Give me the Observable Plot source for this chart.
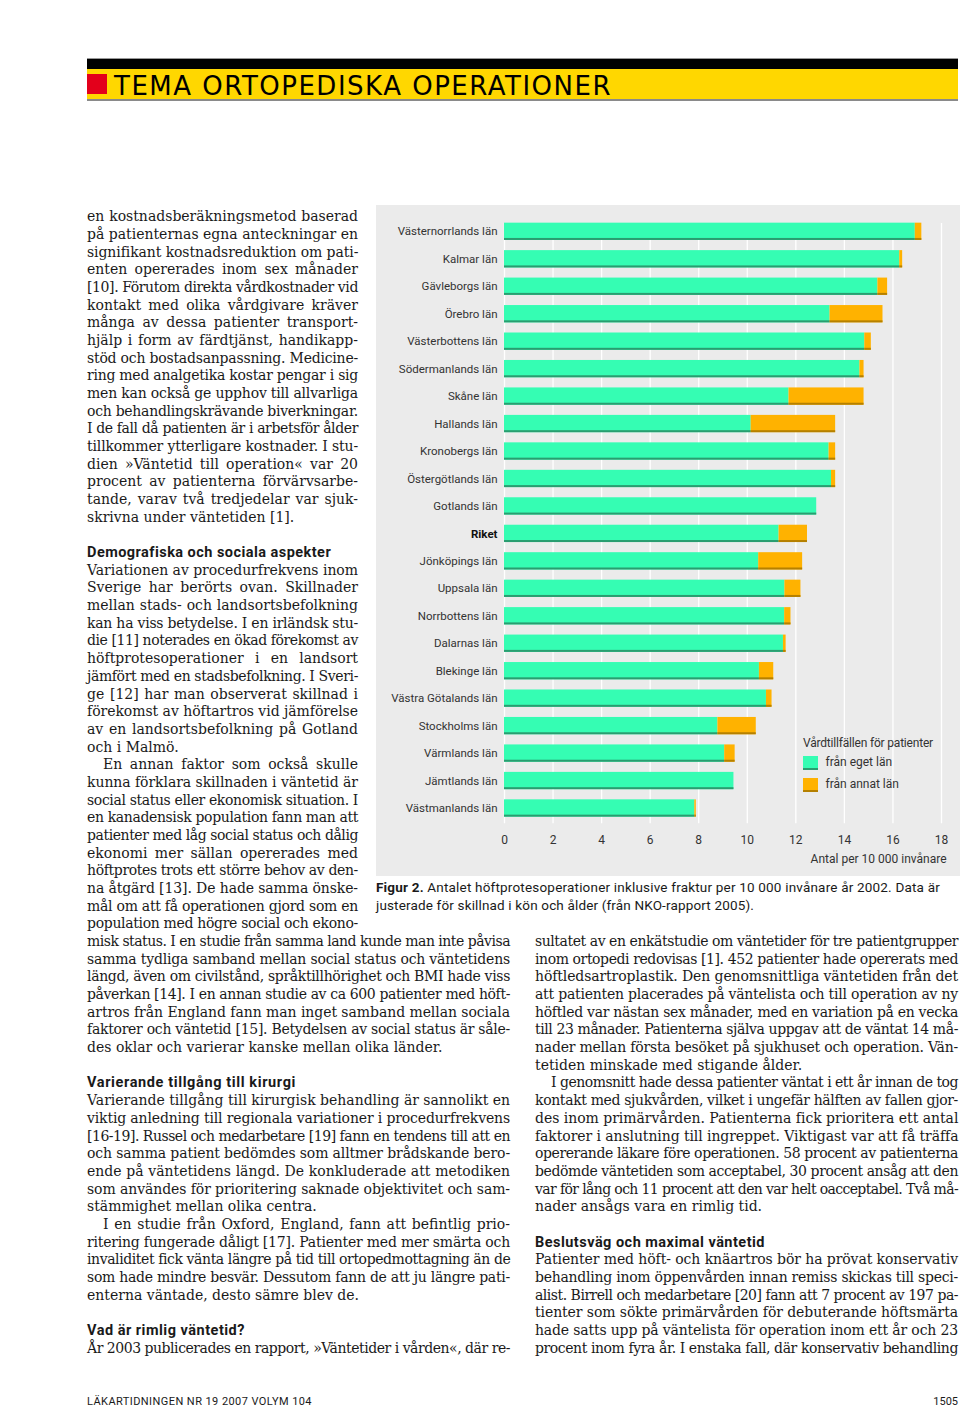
<!DOCTYPE html>
<html>
<head>
<meta charset="utf-8">
<script src="https://cdn.jsdelivr.net/npm/d3@7"></script>
<script src="https://cdn.jsdelivr.net/npm/@observablehq/plot@0.6"></script>
<style>
  html, body { margin: 0; padding: 0; background: #fff; }
  #page { position: relative; width: 960px; height: 1411px; overflow: hidden; background: #fff; color: #1a1a1a; }
  #page div.t { position: absolute; white-space: pre; width: max-content; }
</style>
</head>
<body>
<div id="page"></div>
<script>
// ---------- chart data ----------
const regions = ["Västernorrlands län", "Kalmar län", "Gävleborgs län", "Örebro län", "Västerbottens län", "Södermanlands län", "Skåne län", "Hallands län", "Kronobergs län", "Östergötlands län", "Gotlands län", "Riket", "Jönköpings län", "Uppsala län", "Norrbottens län", "Dalarnas län", "Blekinge län", "Västra Götalands län", "Stockholms län", "Värmlands län", "Jämtlands län", "Västmanlands län"];
const egetLan  = [16.92, 16.28, 15.38, 13.41, 14.84, 14.64, 11.72, 10.16, 13.37, 13.47, 12.86, 11.31, 10.47, 11.55, 11.54, 11.49, 10.50, 10.79, 8.79, 9.07, 9.45, 7.84];
const annatLan = [0.27, 0.12, 0.40, 2.18, 0.27, 0.17, 3.09, 3.48, 0.27, 0.17, 0.00, 1.17, 1.81, 0.66, 0.26, 0.11, 0.59, 0.23, 1.58, 0.43, 0.00, 0.06];
const seriesNames = ["från eget län", "från annat län"];
const xTicks = [0, 2, 4, 6, 8, 10, 12, 14, 16, 18];
const legendTitle = "Vårdtillfällen för patienter";
const xLabel = "Antal per 10 000 invånare";

const GREEN = "#35fdb3", GREEN_D = "#2a9d70", ORANGE = "#ffb200", ORANGE_D = "#b58000";

const page = document.getElementById("page");
const LH = 17.68;

function el(css, html) {
  const d = document.createElement("div");
  d.style.cssText = "position:absolute;" + css;
  if (html !== undefined) d.innerHTML = html;
  page.appendChild(d);
  return d;
}

function makeLine(text, x, yc, w, font, mode, isHTML) {
  const d = document.createElement("div");
  d.className = "t";
  d.style.left = x + "px";
  d.style.top = (yc - LH / 2) + "px";
  d.style.lineHeight = LH + "px";
  d.style.font = font;
  if (isHTML) d.innerHTML = text; else d.textContent = text;
  page.appendChild(d);
  if (mode === "none") return d;
  const plain = d.textContent;
  let nat = d.getBoundingClientRect().width;
  if (mode === "justify") {
    const n = (plain.match(/ /g) || []).length;
    if (nat > w) {
      d.style.letterSpacing = ((w - nat) / plain.length) + "px";
      nat = d.getBoundingClientRect().width;
    }
    if (n > 0 && nat < w) d.style.wordSpacing = ((w - nat) / n) + "px";
  } else if (mode === "fit") {
    d.style.letterSpacing = ((w - nat) / plain.length) + "px";
  } else if (mode === "right") {
    d.style.left = (x - nat) + "px";
  }
  return d;
}

const BODY = "14px 'DejaVu Serif', serif";
const HEAD = "bold 14.5px Roboto, sans-serif";
const headingW = {
  "Demografiska och sociala aspekter": 244,
  "Varierande tillgång till kirurgi": 209,
  "Vad är rimlig väntetid?": 158,
  "Beslutsväg och maximal väntetid": 230
};

function renderBlock(x, y0, w, lines) {
  lines.forEach((raw, i) => {
    if (!raw) return;
    const yc = y0 + i * LH;
    if (raw[0] === "#") {
      const t = raw.slice(1);
      makeLine(t, x, yc, headingW[t], HEAD, "fit");
      return;
    }
    let s = raw, indent = 0, mode = "justify";
    if (s[0] === ">") { indent = 16; s = s.slice(1); }
    if (s[0] === "~") { mode = "none"; s = s.slice(1); }
    makeLine(s, x + indent, yc, w - indent, BODY, mode);
  });
}

// ---------- header ----------
el("left:87px;top:58px;width:871px;height:1px;background:#999;");
el("left:87px;top:59px;width:871px;height:10px;background:#000;");
el("left:87px;top:69px;width:871px;height:30px;background:#ffd700;");
el("left:87px;top:99px;width:871px;height:1.5px;background:#8a8a8a;");
el("left:87px;top:74px;width:20px;height:20px;background:#e3001b;");
(function () {
  const d = document.createElement("div");
  d.className = "t";
  d.style.cssText += "left:114px;top:70.5px;line-height:30px;font:26px 'DejaVu Sans', sans-serif;color:#000;";
  d.textContent = "TEMA ORTOPEDISKA OPERATIONER";
  page.appendChild(d);
  const nat = d.getBoundingClientRect().width;
  d.style.letterSpacing = ((498 - nat) / 28) + "px";
})();

// ---------- body text ----------
const leftNarrow = [
  "en kostnadsberäkningsmetod baserad",
  "på patienternas egna anteckningar en",
  "signifikant kostnadsreduktion om pati-",
  "enten opererades inom sex månader",
  "[10]. Förutom direkta vårdkostnader vid",
  "kontakt med olika vårdgivare kräver",
  "många av dessa patienter transport-",
  "hjälp i form av färdtjänst, handikapp-",
  "stöd och bostadsanpassning. Medicine-",
  "ring med analgetika kostar pengar i sig",
  "men kan också ge upphov till allvarliga",
  "och behandlingskrävande biverkningar.",
  "I de fall då patienten är i arbetsför ålder",
  "tillkommer ytterligare kostnader. I stu-",
  "dien »Väntetid till operation« var 20",
  "procent av patienterna förvärvsarbe-",
  "tande, varav två tredjedelar var sjuk-",
  "~skrivna under väntetiden [1].",
  "",
  "#Demografiska och sociala aspekter",
  "Variationen av procedurfrekvens inom",
  "Sverige har berörts ovan. Skillnader",
  "mellan stads- och landsortsbefolkning",
  "kan ha viss betydelse. I en irländsk stu-",
  "die [11] noterades en ökad förekomst av",
  "höftprotesoperationer i en landsort",
  "jämfört med en stadsbefolkning. I Sveri-",
  "ge [12] har man observerat skillnad i",
  "förekomst av höftartros vid jämförelse",
  "av en landsortsbefolkning på Gotland",
  "~och i Malmö.",
  ">En annan faktor som också skulle",
  "kunna förklara skillnaden i väntetid är",
  "social status eller ekonomisk situation. I",
  "en kanadensisk population fann man att",
  "patienter med låg social status och dålig",
  "ekonomi mer sällan opererades med",
  "höftprotes trots ett större behov av den-",
  "na åtgärd [13]. De hade samma önske-",
  "mål om att få operationen gjord som en",
  "population med högre social och ekono-"
];
const leftWide = [
  "misk status. I en studie från samma land kunde man inte påvisa",
  "samma tydliga samband mellan social status och väntetidens",
  "längd, även om civilstånd, språktillhörighet och BMI hade viss",
  "påverkan [14]. I en annan studie av ca 600 patienter med höft-",
  "artros från England fann man inget samband mellan sociala",
  "faktorer och väntetid [15]. Betydelsen av social status är såle-",
  "~des oklar och varierar kanske mellan olika länder.",
  "",
  "#Varierande tillgång till kirurgi",
  "Varierande tillgång till kirurgisk behandling är sannolikt en",
  "viktig anledning till regionala variationer i procedurfrekvens",
  "[16-19]. Russel och medarbetare [19] fann en tendens till att en",
  "och samma patient bedömdes som alltmer brådskande bero-",
  "ende på väntetidens längd. De konkluderade att metodiken",
  "som användes för prioritering saknade objektivitet och sam-",
  "~stämmighet mellan olika centra.",
  ">I en studie från Oxford, England, fann att befintlig prio-",
  "ritering fungerade dåligt [17]. Patienter med mer smärta och",
  "invaliditet fick vänta längre på tid till ortopedmottagning än de",
  "som hade mindre besvär. Dessutom fann de att ju längre pati-",
  "~enterna väntade, desto sämre blev de.",
  "",
  "#Vad är rimlig väntetid?",
  "År 2003 publicerades en rapport, »Väntetider i vården«, där re-"
];
const rightCol = [
  "sultatet av en enkätstudie om väntetider för tre patientgrupper",
  "inom ortopedi redovisas [1]. 452 patienter hade opererats med",
  "höftledsartroplastik. Den genomsnittliga väntetiden från det",
  "att patienten placerades på väntelista och till operation av ny",
  "höftled var nästan sex månader, med en variation på en vecka",
  "till 23 månader. Patienterna själva uppgav att de väntat 14 må-",
  "nader mellan första besöket på sjukhuset och operation. Vän-",
  "~tetiden minskade med stigande ålder.",
  ">I genomsnitt hade dessa patienter väntat i ett år innan de tog",
  "kontakt med sjukvården, vilket i ungefär hälften av fallen gjor-",
  "des inom primärvården. Patienterna fick prioritera ett antal",
  "faktorer i anslutning till ingreppet. Viktigast var att få träffa",
  "opererande läkare före operationen. 58 procent av patienterna",
  "bedömde väntetiden som acceptabel, 30 procent ansåg att den",
  "var för lång och 11 procent att den var helt oacceptabel. Två må-",
  "~nader ansågs vara en rimlig tid.",
  "",
  "#Beslutsväg och maximal väntetid",
  "Patienter med höft- och knäartros bör ha prövat konservativ",
  "behandling inom öppenvården innan remiss skickas till speci-",
  "alist. Birrell och medarbetare [20] fann att 7 procent av 197 pa-",
  "tienter som sökte primärvården för debuterande höftsmärta",
  "hade satts upp på väntelista för operation inom ett år och 23",
  "procent inom fyra år. I enstaka fall, där konservativ behandling"
];
renderBlock(87, 217, 271, leftNarrow);
renderBlock(87, 217 + 41 * LH, 423, leftWide);
renderBlock(535, 217 + 41 * LH, 423, rightCol);

// ---------- chart ----------
const rows = regions.map((r, i) => ({ region: r, eget: egetLan[i], annat: annatLan[i], total: egetLan[i] + annatLan[i] }));
const W = 584, H = 671, MT = 7.5, MB = 49.2, PAD = 0.37;
const step = (H - MT - MB) / (regions.length - PAD + 2 * PAD);
const bw = step * (1 - PAD);
const stripInset = bw - 2;

const chart = Plot.plot({
  width: W, height: H,
  marginLeft: 128, marginRight: 19, marginTop: MT, marginBottom: MB,
  style: { background: "#ebebeb", fontFamily: "Roboto, sans-serif", fontSize: "11.5px", color: "#333", overflow: "visible" },
  x: { domain: [0, 18] },
  y: { domain: regions, padding: PAD, round: false },
  marks: [
    Plot.ruleX(xTicks, { stroke: "#ffffff", strokeWidth: 1.3, insetTop: 10.5, insetBottom: 3.5 }),
    Plot.barX(rows, { y: "region", x1: 0, x2: "eget", fill: GREEN }),
    Plot.barX(rows, { y: "region", x1: "eget", x2: "total", fill: ORANGE }),
    Plot.barX(rows, { y: "region", x1: 0, x2: "eget", fill: GREEN_D, insetTop: stripInset }),
    Plot.barX(rows, { y: "region", x1: "eget", x2: "total", fill: ORANGE_D, insetTop: stripInset }),
    Plot.axisY({ tickSize: 0, tickPadding: 7, fill: "#333", fontSize: 11.5, label: null }),
    Plot.axisX({ ticks: xTicks, tickSize: 0, tickPadding: 8, fill: "#333", fontSize: 12, label: null }),
    Plot.text([xLabel], { frameAnchor: "bottom-right", dx: 5, dy: 36, textAnchor: "end", fill: "#333", fontSize: 12 })
  ]
});
d3.select(chart).selectAll("text").filter(function () { return this.textContent === "Riket"; }).attr("font-weight", "bold").attr("fill", "#111");
const holder = el("left:376px;top:205px;width:" + W + "px;height:" + H + "px;");
holder.appendChild(chart);

// ---------- legend ----------
const LF = "12px Roboto, sans-serif";
makeLine(legendTitle, 803, 744.5, 130, LF, "fit").style.color = "#333";
el("left:803px;top:756px;width:15px;height:14px;background:" + GREEN + ";border-bottom:2px solid " + GREEN_D + ";box-sizing:border-box;");
el("left:803px;top:778px;width:15px;height:14px;background:" + ORANGE + ";border-bottom:2px solid " + ORANGE_D + ";box-sizing:border-box;");
makeLine(seriesNames[0], 825.5, 764, 0, LF, "none").style.color = "#333";
makeLine(seriesNames[1], 825.5, 785.5, 0, LF, "none").style.color = "#333";

// ---------- caption ----------
const CF = "13.5px Roboto, sans-serif";
makeLine("<b>Figur 2.</b> Antalet höftprotesoperationer inklusive fraktur per 10 000 invånare år 2002. Data är", 376, 888, 564, CF, "fit", true);
makeLine("justerade för skillnad i kön och ålder (från NKO-rapport 2005).", 376, 906, 378, CF, "fit", true);

// ---------- footer ----------
const FF = "11px Roboto, sans-serif";
makeLine("LÄKARTIDNINGEN NR 19 2007 VOLYM 104", 87, 1404, 225, FF, "fit");
makeLine("1505", 958, 1404, 0, FF, "right");
</script>
</body>
</html>
